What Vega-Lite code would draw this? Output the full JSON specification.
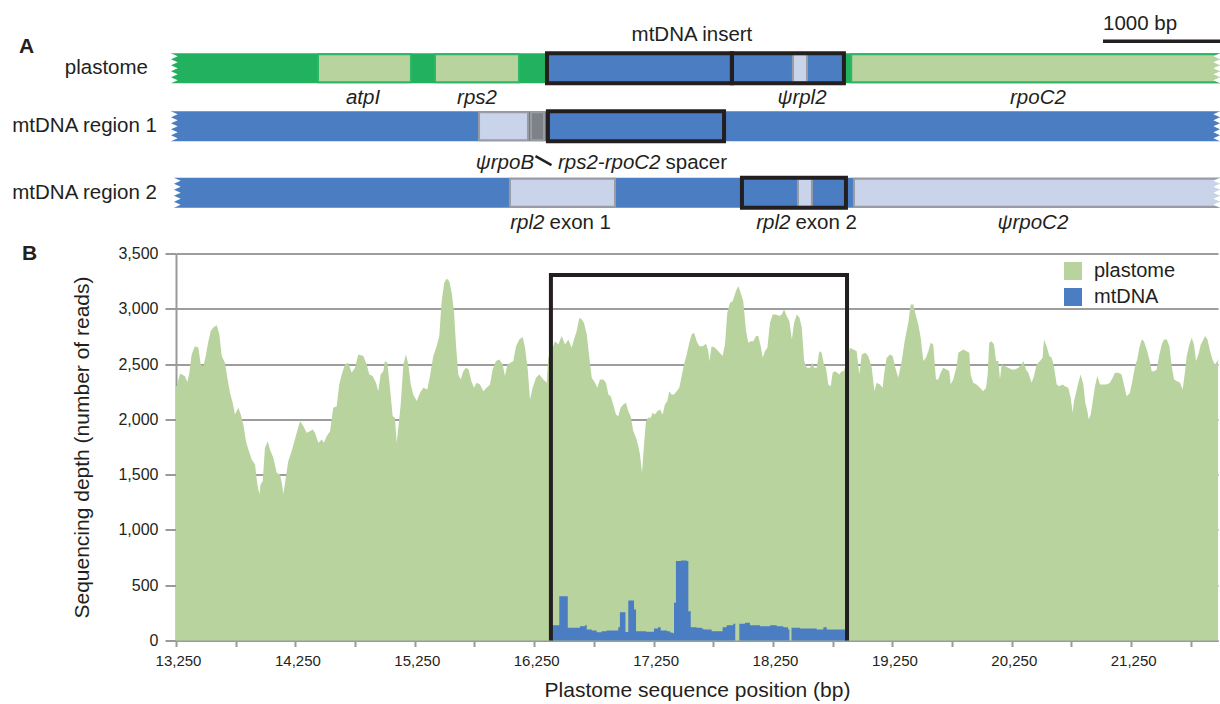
{
  "$schema": "https://vega.github.io/schema/vega-lite/v6.json",
  "padding": {"left": 11, "top": 14, "right": 0, "bottom": 0},
  "spacing": 6.5,
  "config": {
    "view": {"stroke": null},
    "font": "Liberation Sans",
    "text": {"color": "#231f20"}
  },
  "datasets": {
    "tracks": [
      {"track": "plastome", "lane": 1, "start": 13208, "end": 21995, "kind": "plastid DNA"},
      {"track": "mtDNA region 1", "lane": 2, "start": 13208, "end": 21995, "kind": "mitochondrial DNA"},
      {"track": "mtDNA region 2", "lane": 3.147, "start": 13233, "end": 21995, "kind": "mitochondrial DNA"}
    ],
    "features": [
      {"name": "atpI", "lane": 1, "start": 14439, "end": 15218, "kind": "plastid gene"},
      {"name": "rps2", "lane": 1, "start": 15419, "end": 16123, "kind": "plastid gene"},
      {"name": "mtDNA insert", "lane": 1, "start": 16357, "end": 18844, "kind": "mitochondrial DNA"},
      {"name": "rpl2 intron", "lane": 1, "start": 18417, "end": 18535, "kind": "gene copy"},
      {"name": "rpoC2", "lane": 1, "start": 18905, "end": 21995, "kind": "plastid gene"},
      {"name": "rpoB", "lane": 2, "start": 15788, "end": 16198, "kind": "gene copy"},
      {"name": "linker", "lane": 2, "start": 16223, "end": 16332, "kind": "other"},
      {"name": "rpl2 exon 1", "lane": 3.147, "start": 16047, "end": 16927, "kind": "gene copy"},
      {"name": "rpl2 intron", "lane": 3.147, "start": 18459, "end": 18576, "kind": "gene copy"},
      {"name": "rpoC2", "lane": 3.147, "start": 18928, "end": 21995, "kind": "gene copy"}
    ],
    "outlines": [
      {"lane": 1, "start": 16357, "end": 17906},
      {"lane": 1, "start": 17906, "end": 18844},
      {"lane": 2, "start": 16365, "end": 17840},
      {"lane": 3.147, "start": 17990, "end": 18861}
    ],
    "geneLabels": [
      {"text": "atpI", "pos": 14816, "lane": 1},
      {"text": "rps2", "pos": 15771, "lane": 1},
      {"text": "ψrpl2", "pos": 18493, "lane": 1},
      {"text": "rpoC2", "pos": 20469, "lane": 1},
      {"text": "ψrpoB", "pos": 16005, "lane": 2},
      {"text": "ψrpoC2", "pos": 20427, "lane": 3.147}
    ],
    "splitLabels": [
      {"italic": "rps2-rpoC2", "plain": "spacer", "pos": 17329, "lane": 2},
      {"italic": "rpl2", "plain": "exon 1", "pos": 16357, "lane": 3.147},
      {"italic": "rpl2", "plain": "exon 2", "pos": 18417, "lane": 3.147}
    ],
    "plastome": [
      {"pos": 13250, "depth": 2300}, {"pos": 13256, "depth": 2300}, {"pos": 13284, "depth": 2415}, {"pos": 13325, "depth": 2390},
      {"pos": 13345, "depth": 2337}, {"pos": 13362, "depth": 2421}, {"pos": 13381, "depth": 2587}, {"pos": 13409, "depth": 2662},
      {"pos": 13437, "depth": 2650}, {"pos": 13457, "depth": 2497}, {"pos": 13479, "depth": 2480}, {"pos": 13499, "depth": 2572},
      {"pos": 13521, "depth": 2707}, {"pos": 13541, "depth": 2800}, {"pos": 13562, "depth": 2830}, {"pos": 13591, "depth": 2852},
      {"pos": 13613, "depth": 2770}, {"pos": 13633, "depth": 2572}, {"pos": 13660, "depth": 2512}, {"pos": 13680, "depth": 2376},
      {"pos": 13702, "depth": 2240}, {"pos": 13725, "depth": 2150}, {"pos": 13744, "depth": 2044}, {"pos": 13772, "depth": 2104},
      {"pos": 13792, "depth": 2044}, {"pos": 13814, "depth": 1954}, {"pos": 13836, "depth": 1803}, {"pos": 13856, "depth": 1728},
      {"pos": 13884, "depth": 1637}, {"pos": 13912, "depth": 1592}, {"pos": 13931, "depth": 1412}, {"pos": 13948, "depth": 1322},
      {"pos": 13959, "depth": 1412}, {"pos": 13976, "depth": 1440}, {"pos": 13995, "depth": 1743}, {"pos": 14018, "depth": 1803},
      {"pos": 14037, "depth": 1728}, {"pos": 14065, "depth": 1652}, {"pos": 14093, "depth": 1517}, {"pos": 14121, "depth": 1502},
      {"pos": 14138, "depth": 1412}, {"pos": 14149, "depth": 1322}, {"pos": 14165, "depth": 1440}, {"pos": 14190, "depth": 1622},
      {"pos": 14219, "depth": 1713}, {"pos": 14238, "depth": 1788}, {"pos": 14261, "depth": 1878}, {"pos": 14289, "depth": 1984},
      {"pos": 14316, "depth": 1939}, {"pos": 14344, "depth": 1878}, {"pos": 14372, "depth": 1893}, {"pos": 14395, "depth": 1908},
      {"pos": 14414, "depth": 1878}, {"pos": 14442, "depth": 1788}, {"pos": 14470, "depth": 1818}, {"pos": 14489, "depth": 1788},
      {"pos": 14512, "depth": 1848}, {"pos": 14540, "depth": 1893}, {"pos": 14567, "depth": 2104}, {"pos": 14596, "depth": 2119},
      {"pos": 14617, "depth": 2315}, {"pos": 14638, "depth": 2406}, {"pos": 14665, "depth": 2497}, {"pos": 14693, "depth": 2512},
      {"pos": 14721, "depth": 2421}, {"pos": 14749, "depth": 2467}, {"pos": 14777, "depth": 2587}, {"pos": 14819, "depth": 2572},
      {"pos": 14847, "depth": 2497}, {"pos": 14869, "depth": 2406}, {"pos": 14897, "depth": 2391}, {"pos": 14925, "depth": 2331},
      {"pos": 14944, "depth": 2255}, {"pos": 14964, "depth": 2406}, {"pos": 14986, "depth": 2436}, {"pos": 15000, "depth": 2527},
      {"pos": 15020, "depth": 2512}, {"pos": 15042, "depth": 2285}, {"pos": 15065, "depth": 2029}, {"pos": 15084, "depth": 2014},
      {"pos": 15098, "depth": 1788}, {"pos": 15115, "depth": 1954}, {"pos": 15132, "depth": 2134}, {"pos": 15154, "depth": 2497},
      {"pos": 15176, "depth": 2587}, {"pos": 15196, "depth": 2497}, {"pos": 15216, "depth": 2315}, {"pos": 15237, "depth": 2225},
      {"pos": 15266, "depth": 2165}, {"pos": 15294, "depth": 2240}, {"pos": 15321, "depth": 2285}, {"pos": 15355, "depth": 2270},
      {"pos": 15377, "depth": 2391}, {"pos": 15405, "depth": 2572}, {"pos": 15433, "depth": 2662}, {"pos": 15455, "depth": 2753},
      {"pos": 15475, "depth": 3069}, {"pos": 15497, "depth": 3235}, {"pos": 15517, "depth": 3274}, {"pos": 15539, "depth": 3250},
      {"pos": 15559, "depth": 3145}, {"pos": 15578, "depth": 2979}, {"pos": 15595, "depth": 2677}, {"pos": 15614, "depth": 2406},
      {"pos": 15634, "depth": 2361}, {"pos": 15656, "depth": 2436}, {"pos": 15679, "depth": 2466}, {"pos": 15701, "depth": 2451},
      {"pos": 15723, "depth": 2346}, {"pos": 15746, "depth": 2285}, {"pos": 15768, "depth": 2331}, {"pos": 15796, "depth": 2315},
      {"pos": 15824, "depth": 2255}, {"pos": 15852, "depth": 2285}, {"pos": 15880, "depth": 2315}, {"pos": 15902, "depth": 2451},
      {"pos": 15930, "depth": 2527}, {"pos": 15958, "depth": 2542}, {"pos": 15986, "depth": 2497}, {"pos": 16005, "depth": 2391},
      {"pos": 16025, "depth": 2497}, {"pos": 16053, "depth": 2512}, {"pos": 16075, "depth": 2527}, {"pos": 16098, "depth": 2662},
      {"pos": 16125, "depth": 2722}, {"pos": 16154, "depth": 2744}, {"pos": 16173, "depth": 2647}, {"pos": 16196, "depth": 2451},
      {"pos": 16215, "depth": 2180}, {"pos": 16237, "depth": 2285}, {"pos": 16265, "depth": 2376}, {"pos": 16293, "depth": 2406},
      {"pos": 16326, "depth": 2361}, {"pos": 16355, "depth": 2331}, {"pos": 16368, "depth": 2557}, {"pos": 16395, "depth": 2620},
      {"pos": 16424, "depth": 2707}, {"pos": 16452, "depth": 2677}, {"pos": 16480, "depth": 2753}, {"pos": 16508, "depth": 2677},
      {"pos": 16536, "depth": 2722}, {"pos": 16564, "depth": 2647}, {"pos": 16583, "depth": 2722}, {"pos": 16606, "depth": 2798},
      {"pos": 16628, "depth": 2919}, {"pos": 16648, "depth": 2904}, {"pos": 16667, "depth": 2873}, {"pos": 16690, "depth": 2768},
      {"pos": 16712, "depth": 2557}, {"pos": 16732, "depth": 2376}, {"pos": 16759, "depth": 2331}, {"pos": 16779, "depth": 2285},
      {"pos": 16801, "depth": 2361}, {"pos": 16829, "depth": 2361}, {"pos": 16851, "depth": 2331}, {"pos": 16871, "depth": 2225},
      {"pos": 16891, "depth": 2210}, {"pos": 16912, "depth": 2134}, {"pos": 16935, "depth": 2044}, {"pos": 16954, "depth": 2029},
      {"pos": 16974, "depth": 2104}, {"pos": 16996, "depth": 2134}, {"pos": 17019, "depth": 2150}, {"pos": 17038, "depth": 2074},
      {"pos": 17058, "depth": 2029}, {"pos": 17080, "depth": 1893}, {"pos": 17103, "depth": 1833}, {"pos": 17122, "depth": 1758},
      {"pos": 17136, "depth": 1682}, {"pos": 17153, "depth": 1517}, {"pos": 17170, "depth": 1773}, {"pos": 17186, "depth": 1984},
      {"pos": 17206, "depth": 2014}, {"pos": 17226, "depth": 2014}, {"pos": 17242, "depth": 2059}, {"pos": 17262, "depth": 2044},
      {"pos": 17281, "depth": 2074}, {"pos": 17304, "depth": 2089}, {"pos": 17326, "depth": 2044}, {"pos": 17345, "depth": 2134},
      {"pos": 17365, "depth": 2165}, {"pos": 17381, "depth": 2255}, {"pos": 17401, "depth": 2225}, {"pos": 17421, "depth": 2225},
      {"pos": 17443, "depth": 2255}, {"pos": 17465, "depth": 2285}, {"pos": 17485, "depth": 2391}, {"pos": 17505, "depth": 2497},
      {"pos": 17527, "depth": 2587}, {"pos": 17549, "depth": 2692}, {"pos": 17569, "depth": 2768}, {"pos": 17589, "depth": 2783},
      {"pos": 17611, "depth": 2707}, {"pos": 17633, "depth": 2662}, {"pos": 17661, "depth": 2662}, {"pos": 17689, "depth": 2683},
      {"pos": 17708, "depth": 2617}, {"pos": 17717, "depth": 2527}, {"pos": 17736, "depth": 2662}, {"pos": 17764, "depth": 2647},
      {"pos": 17792, "depth": 2617}, {"pos": 17828, "depth": 2572}, {"pos": 17848, "depth": 2677}, {"pos": 17867, "depth": 2964},
      {"pos": 17890, "depth": 3054}, {"pos": 17912, "depth": 3069}, {"pos": 17940, "depth": 3160}, {"pos": 17959, "depth": 3205},
      {"pos": 17979, "depth": 3145}, {"pos": 18001, "depth": 3069}, {"pos": 18024, "depth": 2798}, {"pos": 18043, "depth": 2692},
      {"pos": 18063, "depth": 2707}, {"pos": 18085, "depth": 2707}, {"pos": 18108, "depth": 2753}, {"pos": 18127, "depth": 2753},
      {"pos": 18147, "depth": 2662}, {"pos": 18164, "depth": 2557}, {"pos": 18183, "depth": 2617}, {"pos": 18203, "depth": 2647},
      {"pos": 18225, "depth": 2873}, {"pos": 18248, "depth": 2949}, {"pos": 18275, "depth": 2949}, {"pos": 18303, "depth": 2934},
      {"pos": 18323, "depth": 2949}, {"pos": 18343, "depth": 2994}, {"pos": 18365, "depth": 2934}, {"pos": 18387, "depth": 2889},
      {"pos": 18408, "depth": 2722}, {"pos": 18427, "depth": 2873}, {"pos": 18449, "depth": 2949}, {"pos": 18472, "depth": 2919},
      {"pos": 18491, "depth": 2830}, {"pos": 18511, "depth": 2527}, {"pos": 18533, "depth": 2466}, {"pos": 18560, "depth": 2466},
      {"pos": 18583, "depth": 2512}, {"pos": 18593, "depth": 2466}, {"pos": 18616, "depth": 2466}, {"pos": 18638, "depth": 2617},
      {"pos": 18657, "depth": 2602}, {"pos": 18677, "depth": 2497}, {"pos": 18694, "depth": 2466}, {"pos": 18713, "depth": 2315},
      {"pos": 18733, "depth": 2300}, {"pos": 18750, "depth": 2421}, {"pos": 18769, "depth": 2436}, {"pos": 18788, "depth": 2421},
      {"pos": 18806, "depth": 2406}, {"pos": 18825, "depth": 2436}, {"pos": 18844, "depth": 2436}, {"pos": 18870, "depth": 2540},
      {"pos": 18895, "depth": 2647}, {"pos": 18923, "depth": 2632}, {"pos": 18951, "depth": 2617}, {"pos": 18973, "depth": 2406},
      {"pos": 18993, "depth": 2587}, {"pos": 19021, "depth": 2602}, {"pos": 19048, "depth": 2572}, {"pos": 19077, "depth": 2466},
      {"pos": 19099, "depth": 2255}, {"pos": 19118, "depth": 2331}, {"pos": 19146, "depth": 2315}, {"pos": 19169, "depth": 2285},
      {"pos": 19180, "depth": 2406}, {"pos": 19202, "depth": 2557}, {"pos": 19230, "depth": 2587}, {"pos": 19252, "depth": 2572},
      {"pos": 19271, "depth": 2481}, {"pos": 19299, "depth": 2376}, {"pos": 19328, "depth": 2527}, {"pos": 19355, "depth": 2722},
      {"pos": 19383, "depth": 2873}, {"pos": 19403, "depth": 3039}, {"pos": 19425, "depth": 3039}, {"pos": 19448, "depth": 2934},
      {"pos": 19467, "depth": 2858}, {"pos": 19487, "depth": 2737}, {"pos": 19509, "depth": 2527}, {"pos": 19531, "depth": 2557},
      {"pos": 19551, "depth": 2617}, {"pos": 19571, "depth": 2692}, {"pos": 19592, "depth": 2677}, {"pos": 19615, "depth": 2361},
      {"pos": 19634, "depth": 2361}, {"pos": 19654, "depth": 2421}, {"pos": 19676, "depth": 2466}, {"pos": 19704, "depth": 2451},
      {"pos": 19727, "depth": 2436}, {"pos": 19738, "depth": 2315}, {"pos": 19760, "depth": 2361}, {"pos": 19788, "depth": 2481},
      {"pos": 19802, "depth": 2602}, {"pos": 19822, "depth": 2617}, {"pos": 19843, "depth": 2632}, {"pos": 19871, "depth": 2617},
      {"pos": 19894, "depth": 2602}, {"pos": 19905, "depth": 2406}, {"pos": 19927, "depth": 2331}, {"pos": 19955, "depth": 2315},
      {"pos": 19983, "depth": 2285}, {"pos": 20011, "depth": 2255}, {"pos": 20034, "depth": 2285}, {"pos": 20048, "depth": 2406},
      {"pos": 20061, "depth": 2692}, {"pos": 20081, "depth": 2707}, {"pos": 20101, "depth": 2677}, {"pos": 20118, "depth": 2527},
      {"pos": 20137, "depth": 2527}, {"pos": 20151, "depth": 2361}, {"pos": 20165, "depth": 2497}, {"pos": 20193, "depth": 2481},
      {"pos": 20221, "depth": 2466}, {"pos": 20249, "depth": 2451}, {"pos": 20277, "depth": 2451}, {"pos": 20305, "depth": 2466},
      {"pos": 20333, "depth": 2497}, {"pos": 20346, "depth": 2527}, {"pos": 20369, "depth": 2451}, {"pos": 20388, "depth": 2421},
      {"pos": 20416, "depth": 2331}, {"pos": 20436, "depth": 2391}, {"pos": 20458, "depth": 2497}, {"pos": 20486, "depth": 2527},
      {"pos": 20508, "depth": 2557}, {"pos": 20519, "depth": 2722}, {"pos": 20542, "depth": 2662}, {"pos": 20564, "depth": 2572},
      {"pos": 20584, "depth": 2557}, {"pos": 20603, "depth": 2481}, {"pos": 20626, "depth": 2315}, {"pos": 20648, "depth": 2300},
      {"pos": 20676, "depth": 2315}, {"pos": 20695, "depth": 2300}, {"pos": 20723, "depth": 2285}, {"pos": 20743, "depth": 2195},
      {"pos": 20760, "depth": 2059}, {"pos": 20771, "depth": 2165}, {"pos": 20788, "depth": 2240}, {"pos": 20807, "depth": 2331},
      {"pos": 20827, "depth": 2406}, {"pos": 20849, "depth": 2315}, {"pos": 20866, "depth": 2150}, {"pos": 20883, "depth": 2074},
      {"pos": 20894, "depth": 1999}, {"pos": 20911, "depth": 2044}, {"pos": 20928, "depth": 2165}, {"pos": 20947, "depth": 2300},
      {"pos": 20966, "depth": 2391}, {"pos": 20989, "depth": 2315}, {"pos": 21017, "depth": 2315}, {"pos": 21045, "depth": 2315},
      {"pos": 21072, "depth": 2331}, {"pos": 21095, "depth": 2376}, {"pos": 21114, "depth": 2421}, {"pos": 21142, "depth": 2421},
      {"pos": 21170, "depth": 2406}, {"pos": 21189, "depth": 2315}, {"pos": 21212, "depth": 2210}, {"pos": 21226, "depth": 2225},
      {"pos": 21240, "depth": 2240}, {"pos": 21262, "depth": 2361}, {"pos": 21282, "depth": 2481}, {"pos": 21301, "depth": 2542},
      {"pos": 21318, "depth": 2647}, {"pos": 21338, "depth": 2722}, {"pos": 21357, "depth": 2707}, {"pos": 21380, "depth": 2632},
      {"pos": 21402, "depth": 2542}, {"pos": 21422, "depth": 2436}, {"pos": 21442, "depth": 2436}, {"pos": 21464, "depth": 2451},
      {"pos": 21486, "depth": 2587}, {"pos": 21506, "depth": 2677}, {"pos": 21525, "depth": 2722}, {"pos": 21548, "depth": 2722},
      {"pos": 21570, "depth": 2662}, {"pos": 21589, "depth": 2481}, {"pos": 21609, "depth": 2361}, {"pos": 21631, "depth": 2346},
      {"pos": 21659, "depth": 2331}, {"pos": 21681, "depth": 2270}, {"pos": 21701, "depth": 2436}, {"pos": 21715, "depth": 2572},
      {"pos": 21737, "depth": 2677}, {"pos": 21757, "depth": 2737}, {"pos": 21776, "depth": 2677}, {"pos": 21793, "depth": 2527},
      {"pos": 21813, "depth": 2587}, {"pos": 21833, "depth": 2677}, {"pos": 21855, "depth": 2722}, {"pos": 21869, "depth": 2753},
      {"pos": 21889, "depth": 2722}, {"pos": 21911, "depth": 2617}, {"pos": 21931, "depth": 2542}, {"pos": 21950, "depth": 2497},
      {"pos": 21973, "depth": 2527}, {"pos": 21977, "depth": 2557}
    ],
    "mtdna": [
      {"pos": 16395, "depth": 139}, {"pos": 16460, "depth": 401}, {"pos": 16531, "depth": 115}, {"pos": 16633, "depth": 130},
      {"pos": 16675, "depth": 139}, {"pos": 16690, "depth": 100}, {"pos": 16732, "depth": 90}, {"pos": 16773, "depth": 75},
      {"pos": 16815, "depth": 84}, {"pos": 16857, "depth": 90}, {"pos": 16954, "depth": 120}, {"pos": 16968, "depth": 256},
      {"pos": 17014, "depth": 78}, {"pos": 17038, "depth": 362}, {"pos": 17086, "depth": 280}, {"pos": 17103, "depth": 84},
      {"pos": 17186, "depth": 80}, {"pos": 17253, "depth": 109}, {"pos": 17287, "depth": 120}, {"pos": 17309, "depth": 90},
      {"pos": 17362, "depth": 84}, {"pos": 17387, "depth": 72}, {"pos": 17409, "depth": 66}, {"pos": 17421, "depth": 341},
      {"pos": 17437, "depth": 718}, {"pos": 17479, "depth": 724}, {"pos": 17527, "depth": 718}, {"pos": 17541, "depth": 265},
      {"pos": 17561, "depth": 120}, {"pos": 17611, "depth": 115}, {"pos": 17653, "depth": 109}, {"pos": 17666, "depth": 100},
      {"pos": 17736, "depth": 84}, {"pos": 17806, "depth": 84}, {"pos": 17828, "depth": 120}, {"pos": 17862, "depth": 139},
      {"pos": 17917, "depth": 151}, {"pos": 17934, "depth": 0}, {"pos": 17968, "depth": 151}, {"pos": 18015, "depth": 160},
      {"pos": 18057, "depth": 139}, {"pos": 18141, "depth": 130}, {"pos": 18225, "depth": 139}, {"pos": 18281, "depth": 130},
      {"pos": 18336, "depth": 120}, {"pos": 18376, "depth": 100}, {"pos": 18387, "depth": 0}, {"pos": 18405, "depth": 115},
      {"pos": 18476, "depth": 109}, {"pos": 18616, "depth": 100}, {"pos": 18672, "depth": 120}, {"pos": 18700, "depth": 100},
      {"pos": 18853, "depth": 109}, {"pos": 18870, "depth": 0}
    ],
    "insertBox": [
      {"corner": 1, "pos": 16390, "depth": 0},
      {"corner": 2, "pos": 16390, "depth": 3305},
      {"corner": 3, "pos": 18870, "depth": 3305},
      {"corner": 4, "pos": 18870, "depth": 0}
    ]
  },
  "vconcat": [
    {
      "width": 1042,
      "height": 220,
      "layer": [
        {
          "data": {"name": "tracks"},
          "mark": {"type": "bar", "height": 30},
          "encoding": {
            "x": {"field": "start", "type": "quantitative", "scale": {"domain": [13250, 21977], "nice": false, "zero": false, "padding": 0}, "axis": null},
            "x2": {"field": "end"},
            "y": {"field": "lane", "type": "quantitative", "scale": {"domain": [0.1, 3.893], "reverse": true, "nice": false, "zero": false, "padding": 0}, "axis": null},
            "fill": {
              "field": "kind", "type": "nominal", "legend": null,
              "scale": {
                "domain": ["plastid DNA", "mitochondrial DNA", "plastid gene", "gene copy", "other"],
                "range": ["#22b25f", "#4a7dc1", "#b8d39d", "#c9d4ea", "#7e8188"]
              }
            }
          }
        },
        {
          "data": {"name": "features"},
          "mark": {"type": "bar", "height": 28, "strokeWidth": 2},
          "encoding": {
            "x": {"field": "start", "type": "quantitative"},
            "x2": {"field": "end"},
            "y": {"field": "lane", "type": "quantitative"},
            "fill": {"field": "kind", "type": "nominal", "legend": null},
            "stroke": {
              "field": "kind", "type": "nominal", "legend": null,
              "scale": {
                "domain": ["plastid DNA", "mitochondrial DNA", "plastid gene", "gene copy", "other"],
                "range": ["#22b25f", "#4a7dc1", "#2db765", "#989ca4", "#989ca4"]
              }
            }
          }
        },
        {
          "data": {"name": "outlines"},
          "mark": {"type": "bar", "height": 30, "fillOpacity": 0, "stroke": "#231f20", "strokeWidth": 4},
          "encoding": {
            "x": {"field": "start", "type": "quantitative"},
            "x2": {"field": "end"},
            "y": {"field": "lane", "type": "quantitative"}
          }
        },
        {
          "data": {"name": "tracks"},
          "mark": {"type": "point", "shape": "M-0.4,-1.1 L0,-1.1 L0,-1 L0.45,-0.8 L0,-0.6 L0.45,-0.4 L0,-0.2 L0.45,0 L0,0.2 L0.45,0.4 L0,0.6 L0.45,0.8 L0,1 L0,1.1 L-0.4,1.1 Z", "filled": true, "color": "white", "opacity": 1, "size": 900, "strokeWidth": 0},
          "encoding": {
            "x": {"field": "start", "type": "quantitative"},
            "y": {"field": "lane", "type": "quantitative"}
          }
        },
        {
          "data": {"name": "tracks"},
          "mark": {"type": "point", "shape": "M0.4,-1.1 L0,-1.1 L0,-1 L-0.45,-0.8 L0,-0.6 L-0.45,-0.4 L0,-0.2 L-0.45,0 L0,0.2 L-0.45,0.4 L0,0.6 L-0.45,0.8 L0,1 L0,1.1 L0.4,1.1 Z", "filled": true, "color": "white", "opacity": 1, "size": 900, "strokeWidth": 0},
          "encoding": {
            "x": {"field": "end", "type": "quantitative"},
            "y": {"field": "lane", "type": "quantitative"}
          }
        },
        {
          "data": {"name": "tracks"},
          "transform": [{"filter": "datum.lane == 1"}],
          "mark": {"type": "text", "align": "right", "baseline": "middle", "fontSize": 20.5, "dx": -28},
          "encoding": {
            "x": {"datum": 13250, "type": "quantitative"},
            "y": {"field": "lane", "type": "quantitative"},
            "text": {"field": "track"}
          }
        },
        {
          "data": {"name": "tracks"},
          "transform": [{"filter": "datum.lane != 1"}],
          "mark": {"type": "text", "align": "right", "baseline": "middle", "fontSize": 20.5, "dx": -19},
          "encoding": {
            "x": {"datum": 13250, "type": "quantitative"},
            "y": {"field": "lane", "type": "quantitative"},
            "text": {"field": "track"}
          }
        },
        {
          "data": {"values": [{"panel": "A", "lane": 1}]},
          "mark": {"type": "text", "align": "left", "baseline": "middle", "fontSize": 21, "fontWeight": "bold", "dx": -157, "dy": -21.5},
          "encoding": {
            "x": {"datum": 13250, "type": "quantitative"},
            "y": {"field": "lane", "type": "quantitative"},
            "text": {"field": "panel"}
          }
        },
        {
          "data": {"values": [{"text": "mtDNA insert", "pos": 17571, "lane": 1}]},
          "mark": {"type": "text", "align": "center", "baseline": "middle", "fontSize": 20.5, "dy": -33},
          "encoding": {
            "x": {"field": "pos", "type": "quantitative"},
            "y": {"field": "lane", "type": "quantitative"},
            "text": {"field": "text"}
          }
        },
        {
          "data": {"name": "geneLabels"},
          "transform": [{"filter": "datum.lane != 2"}],
          "mark": {"type": "text", "align": "center", "baseline": "middle", "fontSize": 20.5, "fontStyle": "italic", "dy": 30},
          "encoding": {
            "x": {"field": "pos", "type": "quantitative"},
            "y": {"field": "lane", "type": "quantitative"},
            "text": {"field": "text"}
          }
        },
        {
          "data": {"name": "geneLabels"},
          "transform": [{"filter": "datum.lane == 2"}],
          "mark": {"type": "text", "align": "center", "baseline": "middle", "fontSize": 20.5, "fontStyle": "italic", "dy": 37},
          "encoding": {
            "x": {"field": "pos", "type": "quantitative"},
            "y": {"field": "lane", "type": "quantitative"},
            "text": {"field": "text"}
          }
        },
        {
          "data": {"name": "splitLabels"},
          "transform": [{"filter": "datum.lane != 2"}],
          "mark": {"type": "text", "align": "right", "baseline": "middle", "fontSize": 20.5, "fontStyle": "italic", "dx": -2.5, "dy": 30},
          "encoding": {
            "x": {"field": "pos", "type": "quantitative"},
            "y": {"field": "lane", "type": "quantitative"},
            "text": {"field": "italic"}
          }
        },
        {
          "data": {"name": "splitLabels"},
          "transform": [{"filter": "datum.lane != 2"}],
          "mark": {"type": "text", "align": "left", "baseline": "middle", "fontSize": 20.5, "dx": 2.5, "dy": 30},
          "encoding": {
            "x": {"field": "pos", "type": "quantitative"},
            "y": {"field": "lane", "type": "quantitative"},
            "text": {"field": "plain"}
          }
        },
        {
          "data": {"name": "splitLabels"},
          "transform": [{"filter": "datum.lane == 2"}],
          "mark": {"type": "text", "align": "right", "baseline": "middle", "fontSize": 20.5, "fontStyle": "italic", "dx": -2.5, "dy": 37},
          "encoding": {
            "x": {"field": "pos", "type": "quantitative"},
            "y": {"field": "lane", "type": "quantitative"},
            "text": {"field": "italic"}
          }
        },
        {
          "data": {"name": "splitLabels"},
          "transform": [{"filter": "datum.lane == 2"}],
          "mark": {"type": "text", "align": "left", "baseline": "middle", "fontSize": 20.5, "dx": 2.5, "dy": 37},
          "encoding": {
            "x": {"field": "pos", "type": "quantitative"},
            "y": {"field": "lane", "type": "quantitative"},
            "text": {"field": "plain"}
          }
        },
        {
          "data": {"values": [{"from": 16261, "to": 16395, "lane": 2}]},
          "mark": {"type": "rule", "color": "#231f20", "strokeWidth": 2.5, "yOffset": 30, "y2Offset": 39},
          "encoding": {
            "x": {"field": "from", "type": "quantitative"},
            "x2": {"field": "to"},
            "y": {"field": "lane", "type": "quantitative"},
            "y2": {"field": "lane"}
          }
        },
        {
          "data": {"values": [{"from": 21014, "to": 22014, "lane": 1, "label": "1000 bp"}]},
          "mark": {"type": "rule", "color": "#231f20", "strokeWidth": 3.5, "yOffset": -27},
          "encoding": {
            "x": {"field": "from", "type": "quantitative"},
            "x2": {"field": "to"},
            "y": {"field": "lane", "type": "quantitative"}
          }
        },
        {
          "data": {"values": [{"pos": 21324, "lane": 1, "label": "1000 bp"}]},
          "mark": {"type": "text", "align": "center", "baseline": "middle", "fontSize": 20.5, "dy": -44},
          "encoding": {
            "x": {"field": "pos", "type": "quantitative"},
            "y": {"field": "lane", "type": "quantitative"},
            "text": {"field": "label"}
          }
        }
      ]
    },
    {
      "width": 1042,
      "height": 387,
      "layer": [
        {
          "data": {"name": "plastome"},
          "mark": {"type": "area", "interpolate": "linear", "opacity": 1},
          "encoding": {
            "x": {
              "field": "pos", "type": "quantitative",
              "scale": {"domain": [13250, 21977], "nice": false, "zero": false},
              "axis": {
                "title": "Plastome sequence position (bp)",
                "values": [13250, 13750, 14250, 14750, 15250, 15750, 16250, 16750, 17250, 17750, 18250, 18750, 19250, 19750, 20250, 20750, 21250, 21750],
                "format": ",d",
                "labelExpr": "(datum.value - 13250) % 1000 == 0 ? datum.label : ''",
                "labelFlush": false,
                "labelOverlap": false,
                "labelFontSize": 15,
                "labelColor": "#231f20",
                "labelPadding": 7,
                "labelOffset": 2,
                "tickSize": 6,
                "tickWidth": 2,
                "tickColor": "#9a9a9a",
                "domainColor": "#9a9a9a",
                "domainWidth": 2,
                "grid": false,
                "titleFontSize": 21,
                "titleFontWeight": "normal",
                "titleColor": "#231f20",
                "titlePadding": 11
              }
            },
            "y": {
              "field": "depth", "type": "quantitative",
              "scale": {"domain": [0, 3500], "nice": false},
              "axis": {
                "title": "Sequencing depth (number of reads)",
                "values": [0, 500, 1000, 1500, 2000, 2500, 3000, 3500],
                "format": ",d",
                "labelFontSize": 16,
                "labelColor": "#231f20",
                "labelPadding": 7,
                "tickSize": 11,
                "tickWidth": 2,
                "tickColor": "#9a9a9a",
                "domainColor": "#9a9a9a",
                "domainWidth": 2,
                "grid": true,
                "gridColor": "#9d9d9d",
                "gridWidth": 1.8,
                "titleFontSize": 21,
                "titleFontWeight": "normal",
                "titleColor": "#231f20",
                "titlePadding": 25
              }
            },
            "color": {
              "datum": "plastome",
              "type": "nominal",
              "scale": {"domain": ["plastome", "mtDNA"], "range": ["#b8d39d", "#4a7dc1"]},
              "legend": {
                "title": null,
                "orient": "none",
                "legendX": 887,
                "legendY": 245,
                "symbolType": "square",
                "symbolSize": 324,
                "symbolStrokeWidth": 0,
                "symbolOpacity": 1,
                "labelFontSize": 20,
                "labelColor": "#231f20",
                "labelOffset": 11,
                "rowPadding": 6
              }
            }
          }
        },
        {
          "data": {"name": "mtdna"},
          "mark": {"type": "area", "interpolate": "step-after", "opacity": 1},
          "encoding": {
            "x": {"field": "pos", "type": "quantitative"},
            "y": {"field": "depth", "type": "quantitative"},
            "color": {"datum": "mtDNA", "type": "nominal"}
          }
        },
        {
          "data": {"name": "insertBox"},
          "mark": {"type": "line", "color": "#231f20", "strokeWidth": 4, "strokeJoin": "miter"},
          "encoding": {
            "x": {"field": "pos", "type": "quantitative"},
            "y": {"field": "depth", "type": "quantitative"},
            "order": {"field": "corner", "type": "quantitative"}
          }
        },
        {
          "data": {"values": [{"panel": "B"}]},
          "mark": {"type": "text", "align": "left", "baseline": "middle", "fontSize": 21, "fontWeight": "bold", "dx": -154},
          "encoding": {
            "x": {"datum": 13250, "type": "quantitative"},
            "y": {"datum": 3500, "type": "quantitative"},
            "text": {"field": "panel"}
          }
        }
      ]
    }
  ]
}
